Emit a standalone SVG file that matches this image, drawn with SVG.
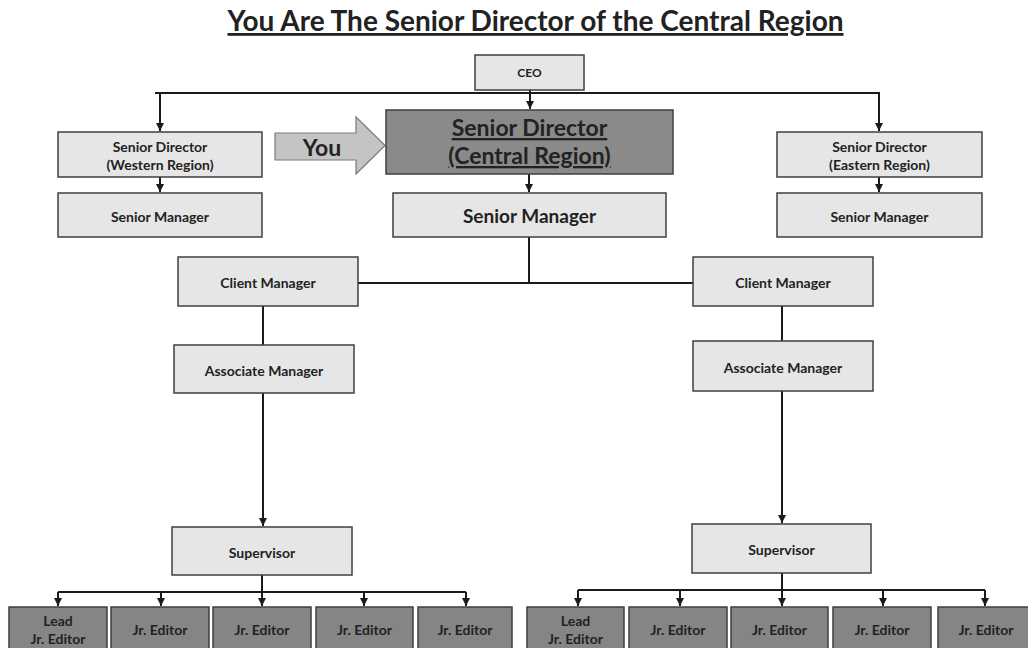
<svg xmlns="http://www.w3.org/2000/svg" width="1028" height="648" viewBox="0 0 1028 648">
  <style>
    .lbl { font-family: "Lato", "Open Sans", sans-serif; font-weight: 700; fill: #222; text-anchor: middle; dominant-baseline: central; }
    .sm { font-size: 14px; }
    .big { font-size: 23px; text-decoration: underline; dominant-baseline: auto; }
    .lite { fill: #e6e6e6; stroke: #3f3f3f; stroke-width: 1.5; }
    .dark { fill: #8a8a8a; stroke: #3f3f3f; stroke-width: 1.5; }
    .ed { fill: #858585; stroke: #3f3f3f; stroke-width: 1.5; }
    .wire { fill: none; stroke: #1a1a1a; stroke-width: 2; }
    .arr { marker-end: url(#tip); }
  </style>
  <defs>
    <marker id="tip" viewBox="0 0 10 10" refX="10" refY="5" markerWidth="4" markerHeight="4" markerUnits="strokeWidth" orient="auto">
      <path d="M0,0 L10,5 L0,10 z" fill="#1a1a1a"/>
    </marker>
  </defs>
  <rect width="1028" height="648" fill="#ffffff"/>

  <!-- heading -->
  <g id="title">
    <text x="535.5" y="31" class="lbl" style="font-size:28px; dominant-baseline:auto; text-decoration:underline">You Are The Senior Director of the Central Region</text>
  </g>

  <!-- connectors -->
  <g id="connectors">
    <path class="wire" d="M155,93 H880"/>
    <path class="wire arr" d="M160,93 V131"/>
    <path class="wire arr" d="M879,93 V131"/>
    <path class="wire arr" d="M530,90 V109"/>
    <path class="wire arr" d="M160,177 V192"/>
    <path class="wire arr" d="M529,174 V192"/>
    <path class="wire arr" d="M879,177 V192"/>
    <path class="wire" d="M529,237 V283 M358,283 H693"/>
    <path class="wire" d="M263,306 V345"/>
    <path class="wire arr" d="M263,393 V526"/>
    <path class="wire" d="M782,306 V341"/>
    <path class="wire arr" d="M782,391 V523"/>
    <path class="wire" d="M262,575 V592 M58,592 H466"/>
    <path class="wire arr" d="M58,592 V606"/>
    <path class="wire arr" d="M161,592 V606"/>
    <path class="wire arr" d="M262,592 V606"/>
    <path class="wire arr" d="M364,592 V606"/>
    <path class="wire arr" d="M466,592 V606"/>
    <path class="wire" d="M782,573 V590 M578,590 H985"/>
    <path class="wire arr" d="M578,590 V606"/>
    <path class="wire arr" d="M680,590 V606"/>
    <path class="wire arr" d="M782,590 V606"/>
    <path class="wire arr" d="M883,590 V606"/>
    <path class="wire arr" d="M985,590 V606"/>
  </g>

  <g id="ceo">
    <rect class="lite" x="475" y="55" width="109" height="35"/>
    <text class="lbl" style="font-size:12px" x="529.5" y="72">CEO</text>
  </g>

  <g id="you-pointer">
    <path d="M275,133 H356 V117 L385,145.5 L356,174 V160 H275 Z" fill="#c4c4c4" stroke="#7a7a7a" stroke-width="1.2"/>
    <text class="lbl" style="font-size:23px" x="322" y="146.5">You</text>
  </g>

  <g id="sd-west">
    <rect class="lite" x="58" y="132" width="204" height="45"/>
    <text class="lbl sm" x="160" y="146">Senior Director</text>
    <text class="lbl sm" x="160" y="164">(Western Region)</text>
  </g>
  <g id="sm-west">
    <rect class="lite" x="58" y="193" width="204" height="44"/>
    <text class="lbl sm" x="160" y="216">Senior Manager</text>
  </g>

  <g id="sd-central">
    <rect class="dark" x="386" y="110" width="287" height="64"/>
    <text class="lbl big" x="529.5" y="136">Senior Director</text>
    <text class="lbl big" x="529.5" y="164">(Central Region)</text>
  </g>
  <g id="sm-central">
    <rect class="lite" x="393" y="193" width="273" height="44"/>
    <text class="lbl" style="font-size:19px" x="529.5" y="215">Senior Manager</text>
  </g>

  <g id="sd-east">
    <rect class="lite" x="777" y="132" width="205" height="45"/>
    <text class="lbl sm" x="879.5" y="146">Senior Director</text>
    <text class="lbl sm" x="879.5" y="164">(Eastern Region)</text>
  </g>
  <g id="sm-east">
    <rect class="lite" x="777" y="193" width="205" height="44"/>
    <text class="lbl sm" x="879.5" y="216">Senior Manager</text>
  </g>

  <g id="cm-left">
    <rect class="lite" x="178" y="257" width="180" height="49"/>
    <text class="lbl sm" x="268" y="282">Client Manager</text>
  </g>
  <g id="am-left">
    <rect class="lite" x="174" y="345" width="180" height="48"/>
    <text class="lbl sm" x="264" y="370">Associate Manager</text>
  </g>
  <g id="sup-left">
    <rect class="lite" x="172" y="527" width="180" height="48"/>
    <text class="lbl sm" x="262" y="552">Supervisor</text>
  </g>

  <g id="cm-right">
    <rect class="lite" x="693" y="257" width="180" height="49"/>
    <text class="lbl sm" x="783" y="282">Client Manager</text>
  </g>
  <g id="am-right">
    <rect class="lite" x="693" y="341" width="180" height="50"/>
    <text class="lbl sm" x="783" y="367">Associate Manager</text>
  </g>
  <g id="sup-right">
    <rect class="lite" x="692" y="524" width="179" height="49"/>
    <text class="lbl sm" x="781.5" y="549">Supervisor</text>
  </g>

  <!-- editors, left team -->
  <g id="ed-l1">
    <rect class="ed" x="9" y="607" width="98" height="55"/>
    <text class="lbl sm" x="58" y="620">Lead</text>
    <text class="lbl sm" x="58" y="638">Jr. Editor</text>
  </g>
  <g id="ed-l2">
    <rect class="ed" x="111" y="607" width="98" height="55"/>
    <text class="lbl sm" x="160" y="629">Jr. Editor</text>
  </g>
  <g id="ed-l3">
    <rect class="ed" x="213" y="607" width="98" height="55"/>
    <text class="lbl sm" x="262" y="629">Jr. Editor</text>
  </g>
  <g id="ed-l4">
    <rect class="ed" x="316" y="607" width="97" height="55"/>
    <text class="lbl sm" x="364.5" y="629">Jr. Editor</text>
  </g>
  <g id="ed-l5">
    <rect class="ed" x="418" y="607" width="94" height="55"/>
    <text class="lbl sm" x="465" y="629">Jr. Editor</text>
  </g>

  <!-- editors, right team -->
  <g id="ed-r1">
    <rect class="ed" x="527" y="607" width="97" height="55"/>
    <text class="lbl sm" x="575.5" y="620">Lead</text>
    <text class="lbl sm" x="575.5" y="638">Jr. Editor</text>
  </g>
  <g id="ed-r2">
    <rect class="ed" x="629" y="607" width="98" height="55"/>
    <text class="lbl sm" x="678" y="629">Jr. Editor</text>
  </g>
  <g id="ed-r3">
    <rect class="ed" x="731" y="607" width="97" height="55"/>
    <text class="lbl sm" x="779.5" y="629">Jr. Editor</text>
  </g>
  <g id="ed-r4">
    <rect class="ed" x="833" y="607" width="98" height="55"/>
    <text class="lbl sm" x="882" y="629">Jr. Editor</text>
  </g>
  <g id="ed-r5">
    <rect class="ed" x="938" y="607" width="97" height="55"/>
    <text class="lbl sm" x="986" y="629">Jr. Editor</text>
  </g>
</svg>
